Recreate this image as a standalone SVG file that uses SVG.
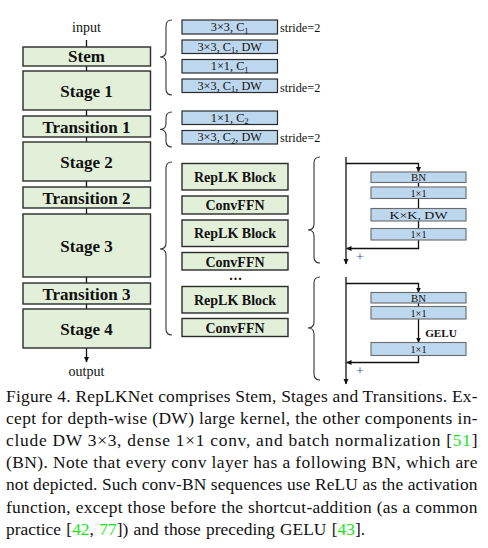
<svg xmlns="http://www.w3.org/2000/svg" width="488" height="548" viewBox="0 0 488 548">
<style>
.g{fill:#E2EFD9;stroke:#2b2b2b;stroke-width:1.4}
.b{fill:#BDD7EE;stroke:#2b2b2b;stroke-width:1.2}
.bs{fill:#BDD7EE;stroke:#6a6a6a;stroke-width:1.1}
.tb{font-family:"Liberation Serif","Times New Roman",serif;font-weight:bold;fill:#111;text-anchor:middle}
.tr{font-family:"Liberation Serif","Times New Roman",serif;fill:#111}
.ln{stroke:#111;stroke-width:1.3;fill:none}
.br{stroke:#333;stroke-width:1.1;fill:none}
.cap{font-family:"Liberation Serif","Times New Roman",serif;font-size:17.4px;fill:#111}
.cit{fill:#19e619}
</style>
<defs>
<marker id="ah" markerWidth="6" markerHeight="6" refX="5" refY="3" orient="auto" markerUnits="userSpaceOnUse">
<path d="M0,0.5 L5.5,3 L0,5.5 Z" fill="#111"/>
</marker>
</defs>

<g id="connectors">
<line class="ln" x1="86.5" y1="40" x2="86.5" y2="47"/>
<line class="ln" x1="86.5" y1="66" x2="86.5" y2="71"/>
<line class="ln" x1="86.5" y1="110" x2="86.5" y2="116"/>
<line class="ln" x1="86.5" y1="137" x2="86.5" y2="142"/>
<line class="ln" x1="86.5" y1="181" x2="86.5" y2="187"/>
<line class="ln" x1="86.5" y1="208" x2="86.5" y2="214"/>
<line class="ln" x1="86.5" y1="277" x2="86.5" y2="283"/>
<line class="ln" x1="86.5" y1="304" x2="86.5" y2="309"/>
<line class="ln" x1="86.5" y1="348" x2="86.5" y2="362" marker-end="url(#ah)"/>
<!-- braces -->
<path class="br" d="M172,20 Q166,20 166,26 L166,51 Q166,57 160,57 Q166,57 166,63 L166,89 Q166,95 172,95"/>
<path class="br" d="M172,112 Q166,112 166,118 L166,123.5 Q166,129.5 160,129.5 Q166,129.5 166,135.5 L166,141 Q166,147 172,147"/>
<path class="br" d="M172,162 Q166,162 166,168 L166,243 Q166,249 160,249 Q166,249 166,255 L166,329 Q166,335 172,335"/>
<path class="br" d="M320,157 Q314,157 314,163 L314,224 Q314,230 308,230 Q314,230 314,236 L314,257 Q314,263 320,263"/>
<path class="br" d="M320,277 Q314,277 314,283 L314,322 Q314,328 308,328 Q314,328 314,334 L314,374 Q314,380 320,380"/>
<!-- right top block -->
<line class="ln" x1="346" y1="157" x2="346" y2="264" marker-end="url(#ah)"/>
<polyline class="ln" points="346,163.5 418.5,163.5 418.5,172" marker-end="url(#ah)"/>
<line class="ln" x1="418.5" y1="182.5" x2="418.5" y2="187"/>
<line class="ln" x1="418.5" y1="198.5" x2="418.5" y2="208.5"/>
<line class="ln" x1="418.5" y1="221" x2="418.5" y2="228.5"/>
<polyline class="ln" points="418.5,240 418.5,248.5 346.5,248.5" marker-end="url(#ah)"/>
<!-- right bottom block -->
<line class="ln" x1="346" y1="277" x2="346" y2="384" marker-end="url(#ah)"/>
<polyline class="ln" points="346,283.5 418.5,283.5 418.5,292.5" marker-end="url(#ah)"/>
<line class="ln" x1="418.5" y1="303" x2="418.5" y2="306.5"/>
<line class="ln" x1="418.5" y1="319" x2="418.5" y2="342.5" marker-end="url(#ah)"/>
<polyline class="ln" points="418.5,355.5 418.5,362.5 346.5,362.5" marker-end="url(#ah)"/>
</g>

<text class="tr" x="86.5" y="31.5" font-size="14" text-anchor="middle">input</text>
<text class="tr" x="86.5" y="376" font-size="14" text-anchor="middle">output</text>

<g id="stem"><rect class="g" x="23" y="47" width="127.5" height="19"/><text class="tb" x="86.5" y="62" font-size="17">Stem</text></g>
<g id="stage1"><rect class="g" x="23" y="71" width="127.5" height="39"/><text class="tb" x="86.5" y="96.5" font-size="17">Stage 1</text></g>
<g id="transition1"><rect class="g" x="23" y="116" width="127.5" height="21"/><text class="tb" x="86.5" y="132.5" font-size="17">Transition 1</text></g>
<g id="stage2"><rect class="g" x="23" y="142" width="127.5" height="39"/><text class="tb" x="86.5" y="167.5" font-size="17">Stage 2</text></g>
<g id="transition2"><rect class="g" x="23" y="187" width="127.5" height="21"/><text class="tb" x="86.5" y="203.5" font-size="17">Transition 2</text></g>
<g id="stage3"><rect class="g" x="23" y="214" width="127.5" height="63"/><text class="tb" x="86.5" y="251.5" font-size="17">Stage 3</text></g>
<g id="transition3"><rect class="g" x="23" y="283" width="127.5" height="21"/><text class="tb" x="86.5" y="299.5" font-size="17">Transition 3</text></g>
<g id="stage4"><rect class="g" x="23" y="309" width="127.5" height="39"/><text class="tb" x="86.5" y="334.5" font-size="17">Stage 4</text></g>

<g id="stem-ops" class="tr" font-size="12.3" text-anchor="middle">
<rect class="b" x="182" y="20" width="95.5" height="14"/>
<text x="229.7" y="31">3×3, C<tspan font-size="8.5" dy="2.5">1</tspan></text>
<rect class="b" x="182" y="40" width="95.5" height="13.5"/>
<text x="229.7" y="50.5">3×3, C<tspan font-size="8.5" dy="2.5">1</tspan><tspan dy="-2.5">, DW</tspan></text>
<rect class="b" x="182" y="59.5" width="95.5" height="13.5"/>
<text x="229.7" y="70">1×1, C<tspan font-size="8.5" dy="2.5">1</tspan></text>
<rect class="b" x="182" y="79" width="95.5" height="13.5"/>
<text x="229.7" y="89.5">3×3, C<tspan font-size="8.5" dy="2.5">1</tspan><tspan dy="-2.5">, DW</tspan></text>
<text x="280" y="31.5" text-anchor="start">stride=2</text>
<text x="280" y="91.5" text-anchor="start">stride=2</text>
</g>
<g id="transition-ops" class="tr" font-size="12.3" text-anchor="middle">
<rect class="b" x="182" y="111" width="95.5" height="13.5"/>
<text x="229.7" y="121.5">1×1, C<tspan font-size="8.5" dy="2.5">2</tspan></text>
<rect class="b" x="182" y="130.5" width="95.5" height="13.5"/>
<text x="229.7" y="141">3×3, C<tspan font-size="8.5" dy="2.5">2</tspan><tspan dy="-2.5">, DW</tspan></text>
<text x="280" y="142" text-anchor="start">stride=2</text>
</g>

<g id="replk1"><rect class="g" x="182" y="163.5" width="106" height="26.5"/><text class="tb" x="235" y="181.5" font-size="14">RepLK Block</text></g>
<g id="convffn1"><rect class="g" x="182" y="196" width="106" height="18"/><text class="tb" x="235" y="210" font-size="14">ConvFFN</text></g>
<g id="replk2"><rect class="g" x="182" y="220" width="106" height="26.5"/><text class="tb" x="235" y="238" font-size="14">RepLK Block</text></g>
<g id="convffn2"><rect class="g" x="182" y="252.5" width="106" height="17.5"/><text class="tb" x="235" y="266.5" font-size="14">ConvFFN</text></g>
<text class="tb" x="236" y="280" font-size="14" letter-spacing="1">...</text>
<g id="replk3"><rect class="g" x="182" y="286.5" width="106" height="26.5"/><text class="tb" x="235" y="304.5" font-size="14">RepLK Block</text></g>
<g id="convffn3"><rect class="g" x="182" y="318.5" width="106" height="18"/><text class="tb" x="235" y="332.5" font-size="14">ConvFFN</text></g>

<g id="replk-detail" class="tr" font-size="11" text-anchor="middle">
<rect class="bs" x="371" y="172" width="95" height="10.5"/>
<text x="418.5" y="181.2" textLength="15" lengthAdjust="spacingAndGlyphs">BN</text>
<rect class="bs" x="371" y="187" width="95" height="11.5"/>
<text x="418.5" y="196.8" textLength="16" lengthAdjust="spacingAndGlyphs">1×1</text>
<rect class="bs" x="371" y="208.5" width="95" height="12.5"/>
<text x="418.5" y="219" textLength="58" lengthAdjust="spacingAndGlyphs">K×K, DW</text>
<rect class="bs" x="371" y="228.5" width="95" height="11.5"/>
<text x="418.5" y="238.3" textLength="16" lengthAdjust="spacingAndGlyphs">1×1</text>
<text x="360" y="260.5" font-size="13" fill="#1f4e9a">+</text>
</g>
<g id="convffn-detail" class="tr" font-size="11" text-anchor="middle">
<rect class="bs" x="371" y="292.5" width="95" height="10.5"/>
<text x="418.5" y="301.7" textLength="15" lengthAdjust="spacingAndGlyphs">BN</text>
<rect class="bs" x="371" y="306.5" width="95" height="12.5"/>
<text x="418.5" y="316.8" textLength="16" lengthAdjust="spacingAndGlyphs">1×1</text>
<text class="tb" x="441" y="337" font-size="11.2">GELU</text>
<rect class="bs" x="371" y="342.5" width="95" height="13"/>
<text x="418.5" y="353" textLength="16" lengthAdjust="spacingAndGlyphs">1×1</text>
<text x="360" y="375" font-size="13" fill="#1f4e9a">+</text>
</g>

<g id="caption" class="cap">
<text x="6" y="402" textLength="471.5" lengthAdjust="spacing">Figure 4. RepLKNet comprises Stem, Stages and Transitions. Ex-</text>
<text x="6" y="424" textLength="471.5" lengthAdjust="spacing">cept for depth-wise (DW) large kernel, the other components in-</text>
<text x="6" y="446" textLength="471.5" lengthAdjust="spacing">clude DW 3×3, dense 1×1 conv, and batch normalization [<tspan class="cit">51</tspan>]</text>
<text x="6" y="468" textLength="471.5" lengthAdjust="spacing">(BN). Note that every conv layer has a following BN, which are</text>
<text x="6" y="490" textLength="471.5" lengthAdjust="spacing">not depicted. Such conv-BN sequences use ReLU as the activation</text>
<text x="6" y="512.5" textLength="471.5" lengthAdjust="spacing">function, except those before the shortcut-addition (as a common</text>
<text x="6" y="534.5" word-spacing="1">practice [<tspan class="cit">42</tspan>, <tspan class="cit">77</tspan>]) and those preceding GELU [<tspan class="cit">43</tspan>].</text>
</g>
</svg>
